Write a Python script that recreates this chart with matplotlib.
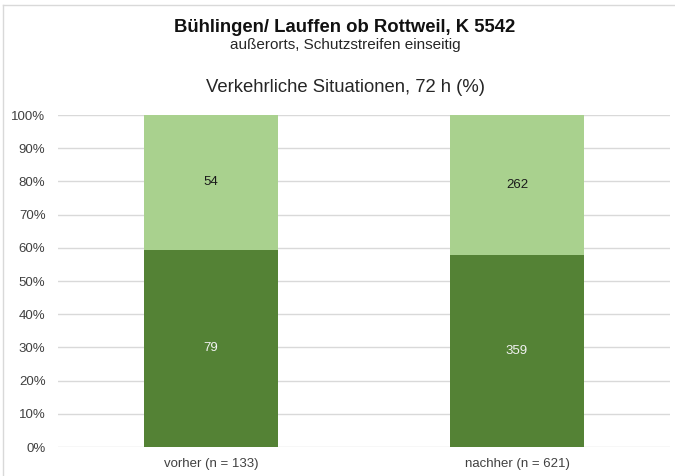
import matplotlib
matplotlib.use("Agg")
import matplotlib.pyplot as plt
import numpy as np

plt.rcParams['font.family'] = ['Liberation Sans', 'DejaVu Sans']

categories = ["vorher (n = 133)", "nachher (n = 621)"]
lower_counts = [79, 359]
upper_counts = [54, 262]
yticks = [0, 10, 20, 30, 40, 50, 60, 70, 80, 90, 100]

lower = np.array(lower_counts, dtype=float)
upper = np.array(upper_counts, dtype=float)
total = lower + upper
lower_pct = lower / total * 100
upper_pct = upper / total * 100

dark = "#548235"
light = "#A9D18E"

fig = plt.figure(figsize=(6.75, 4.76), dpi=100)
W, H = 675, 476
ax = fig.add_axes([58 / W, 1 - 447 / H, 612 / W, 332 / H])

x = np.arange(len(categories))
width = 0.435
ax.bar(x, lower_pct, width, color=dark, zorder=3)
ax.bar(x, upper_pct, width, bottom=lower_pct, color=light, zorder=3)

for i in range(len(categories)):
    ax.text(x[i], lower_pct[i] / 2, str(lower_counts[i]), ha="center", va="center",
            fontsize=9.5, color="#f2f2f2", zorder=4)
    ax.text(x[i], lower_pct[i] + upper_pct[i] / 2, str(upper_counts[i]), ha="center",
            va="center", fontsize=9.5, color="#1a1a1a", zorder=4)

ax.set_xlim(-0.5, 1.5)
ax.set_ylim(0, 100)
ax.set_yticks(yticks)
ax.set_yticklabels([f"{t}%" for t in yticks])
ax.set_xticks(x)
ax.set_xticklabels(categories)
ax.tick_params(axis="both", length=0, labelsize=9.5, colors="#404040")
ax.tick_params(axis="y", pad=9)
ax.tick_params(axis="x", pad=8)
ax.yaxis.grid(True, color="#d9d9d9", linewidth=1.0, zorder=0)
for s in ax.spines.values():
    s.set_visible(False)

fig.text(345 / W, 1 - 27 / H, "Bühlingen/ Lauffen ob Rottweil, K 5542", ha="center",
         va="center", fontsize=13.3, fontweight="bold", color="#111111")
fig.text(345 / W, 1 - 45 / H, "außerorts, Schutzstreifen einseitig", ha="center",
         va="center", fontsize=11, color="#262626")
fig.text(345 / W, 1 - 88 / H, "Verkehrliche Situationen, 72 h (%)", ha="center",
         va="center", fontsize=13.3, color="#262626")

# outer frame lines
fig.add_artist(plt.Line2D([3 / W, 3 / W], [0, 1 - 5 / H], transform=fig.transFigure,
                          color="#d9d9d9", linewidth=1))
fig.add_artist(plt.Line2D([3 / W, 1], [1 - 5 / H, 1 - 5 / H], transform=fig.transFigure,
                          color="#d9d9d9", linewidth=1))

fig.savefig("out.png", dpi=100)
